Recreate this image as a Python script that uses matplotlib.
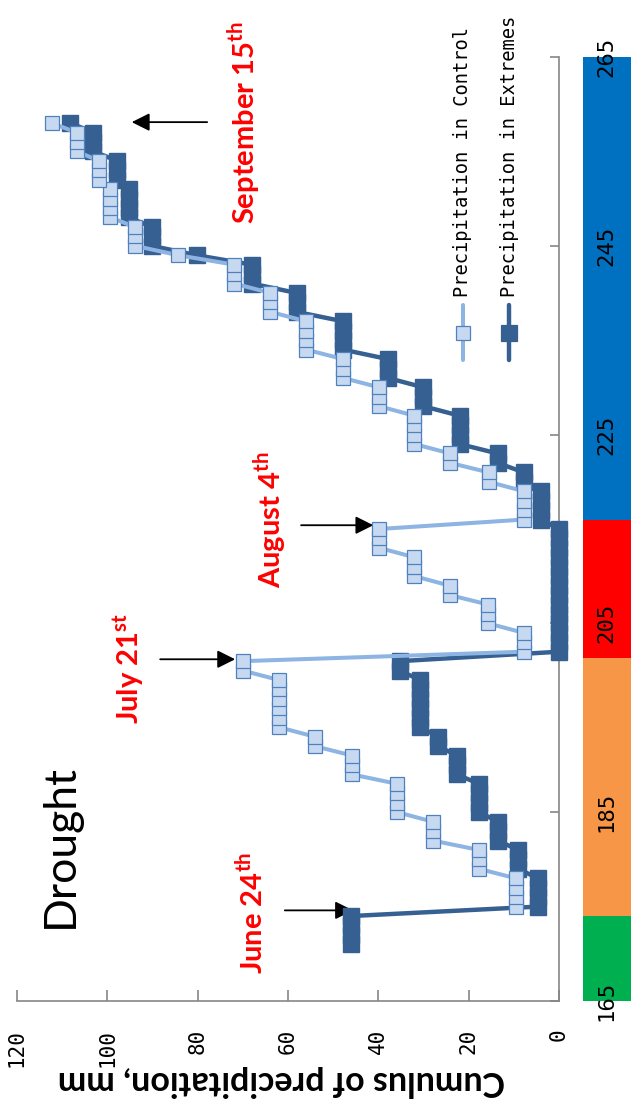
import numpy as np
import matplotlib.pyplot as plt

plt.rcParams['mathtext.fontset'] = 'custom'
plt.rcParams['mathtext.rm'] = 'Lato'
plt.rcParams['mathtext.bf'] = 'Lato:bold'

# daily cumulative precipitation, mm
extreme_days = list(range(171, 259))
extreme_mm = [46, 46, 46, 46,
              4.6, 4.6, 4.6, 4.6,
              9.1, 9.1, 9.1,
              13.5, 13.5, 13.5,
              17.7, 17.7, 17.7, 17.7,
              22.6, 22.6, 22.6,
              26.8, 26.8,
              30.7, 30.7, 30.7, 30.7, 30.7, 30.7,
              35.3, 35.3,
              0, 0, 0, 0, 0, 0, 0, 0, 0, 0, 0, 0, 0, 0,
              3.9, 3.9, 3.9, 3.9,
              7.8, 7.8,
              13.6, 13.6,
              22.0, 22.0, 22.0, 22.0,
              30.0, 30.0, 30.0,
              37.9, 37.9, 37.9,
              47.8, 47.8, 47.8, 47.8,
              58.1, 58.1, 58.1,
              68.0, 68.0, 68.0,
              80.2,
              90.2, 90.2, 90.2,
              95.2, 95.2, 95.2, 95.2,
              97.8, 97.8, 97.8,
              103.1, 103.1, 103.1,
              108.2]

control_days = list(range(175, 259))
control_mm = [9.6, 9.6, 9.6, 9.6,
              17.7, 17.7, 17.7,
              28.0, 28.0, 28.0,
              35.8, 35.8, 35.8, 35.8,
              45.8, 45.8, 45.8,
              54.1, 54.1,
              62.0, 62.0, 62.0, 62.0, 62.0, 62.0,
              70.0, 70.0,
              7.8, 7.8, 7.8,
              15.7, 15.7, 15.7,
              24.2, 24.2,
              32.0, 32.0, 32.0,
              39.8, 39.8, 39.8,
              7.8, 7.8, 7.8, 7.8,
              15.6, 15.6,
              24.1, 24.1,
              32.0, 32.0, 32.0, 32.0,
              39.8, 39.8, 39.8,
              47.8, 47.8, 47.8,
              56.0, 56.0, 56.0, 56.0,
              63.9, 63.9, 63.9,
              71.9, 71.9, 71.9,
              84.3,
              93.9, 93.9, 93.9,
              99.3, 99.3, 99.3, 99.3,
              101.8, 101.8, 101.8,
              106.8, 106.8, 106.8,
              112.3]

day_ticks = [165, 185, 205, 225, 245, 265]
mm_ticks = [0, 20, 40, 60, 80, 100, 120]

# coloured period bands next to the day axis
band_edges = [165, 174, 201.3, 216, 265]
band_colors = ['#00B050', '#F79646', '#FF0000', '#0070C0']

# event labels: text, text position (mm, day), arrow tail, arrow tip
events = [
    (r'June 24$^{\mathbf{th}}$', (68.0, 174.3), (60.7, 174.6), (45.6, 174.6)),
    (r'July 21$^{\mathbf{st}}$', (95.2, 200.2), (88.3, 201.2), (71.7, 201.2)),
    (r'August 4$^{\mathbf{th}}$', (64.0, 216.0), (57.1, 215.4), (41.1, 215.4)),
    (r'September 15$^{\mathbf{th}}$', (69.7, 258.1), (77.9, 258.1), (94.6, 258.1)),
]

fig = plt.figure(figsize=(6.31, 11.08), dpi=100)
ax = fig.add_axes([0.02694, 0.09657, 0.85895, 0.85199])

grey = '#868686'
ext_color = '#376092'
ctl_line = '#8DB4E2'
ctl_face = '#C6D9F1'
ctl_edge = '#4F81BD'

ax.plot(extreme_mm, extreme_days, color=ext_color, lw=3.2, marker='s',
        ms=11.2, mfc=ext_color, mec=ext_color, clip_on=False, zorder=3)
ax.plot(control_mm, control_days, color=ctl_line, lw=2.9, marker='s',
        ms=9.8, mfc=ctl_face, mec=ctl_edge, mew=0.9, clip_on=False, zorder=4)

ax.set_xlim(120, 0)
ax.set_ylim(165, 265)

for s in ['top', 'left']:
    ax.spines[s].set_visible(False)
for s in ['bottom', 'right']:
    ax.spines[s].set_color(grey)
    ax.spines[s].set_linewidth(1.2)

ax.yaxis.tick_right()
ax.set_xticks(mm_ticks)
ax.set_yticks(day_ticks)
ax.tick_params(axis='x', direction='in', length=8, width=1.2, color=grey,
               pad=20, labelsize=15)
ax.tick_params(axis='y', direction='in', length=6.5, width=1.2, color=grey,
               pad=27, labelsize=16)
for lbl in ax.get_xticklabels() + ax.get_yticklabels():
    lbl.set_family('DejaVu Sans Mono')
for lbl in ax.get_xticklabels():
    # end of the number sits next to the axis, text runs downward
    lbl.set_rotation(90)
    lbl.set_rotation_mode('anchor')
    lbl.set_ha('right')
    lbl.set_va('center')
for lbl in ax.get_yticklabels():
    lbl.set_rotation(90)
    lbl.set_va('center')

for i in range(len(band_colors)):
    ax.axhspan(band_edges[i], band_edges[i + 1], xmin=1.045, xmax=1.14,
               color=band_colors[i], lw=0, clip_on=False, zorder=0)

for txt, tpos, tail, tip in events:
    ax.text(tpos[0], tpos[1], txt, rotation=90, ha='center', va='center',
            color='#FF0000', fontsize=21, fontweight='bold', family='Lato')
    ax.annotate('', xy=tip, xytext=tail,
                arrowprops=dict(arrowstyle='-|>', color='black', lw=1.3,
                                mutation_scale=27, shrinkA=0, shrinkB=0),
                zorder=2)

ax.text(110.5, 181.4, 'Drought', rotation=90, ha='center', va='center',
        fontsize=32, family='Lato')

fig.text(0.446, 0.0244, 'Cumulus of precipitation, mm', rotation=180,
         ha='center', va='center', fontsize=24.5, fontweight='bold', family='Lato')

# legend, drawn upright along the rotated frame
legend_items = [('Precipitation in Control', 0.822, ctl_line, ctl_face, ctl_edge, 2.9, 9.8),
                ('Precipitation in Extremes', 0.908, ext_color, ext_color, ext_color, 3.2, 11.2)]
for name, lx, lc, fc, ec, lw, ms in legend_items:
    ax.plot([lx, lx], [0.679, 0.737], color=lc, lw=lw, solid_capstyle='round',
            transform=ax.transAxes, clip_on=False)
    ax.plot([lx], [0.708], marker='s', ms=ms, mfc=fc, mec=ec, mew=0.9,
            transform=ax.transAxes, clip_on=False)
    ax.text(lx, 0.7458, name, rotation=90, ha='center', va='bottom',
            fontsize=13.5, family='DejaVu Sans Mono', transform=ax.transAxes)

fig.savefig('out.png', dpi=100)
